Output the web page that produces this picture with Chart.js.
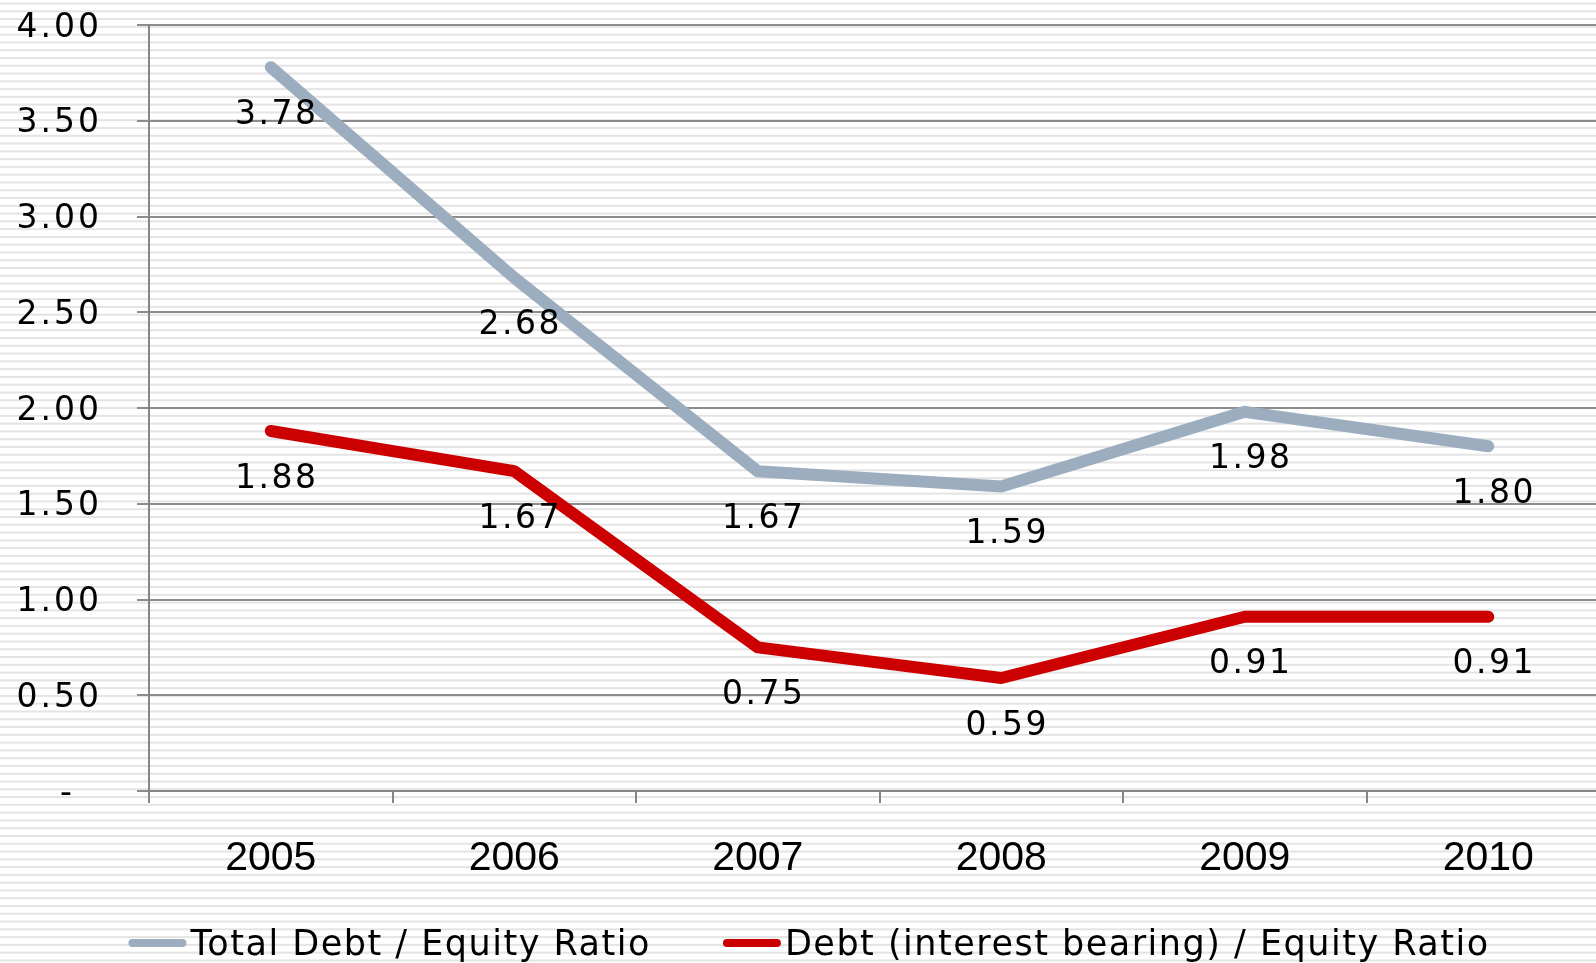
<!DOCTYPE html>
<html>
<head>
<meta charset="utf-8">
<title>Debt / Equity Ratio</title>
<script src="https://cdn.jsdelivr.net/npm/chart.js@4.4.1/dist/chart.umd.min.js"></script>
<style>
  html, body { margin: 0; padding: 0; overflow: hidden; background: #fff; }
  #chart { display: block; }
</style>
</head>
<body>
<canvas id="chart" width="1610" height="963"></canvas>
<script>
const years = ['2005', '2006', '2007', '2008', '2009', '2010'];
const totalDebtRatio = [3.78, 2.68, 1.67, 1.59, 1.98, 1.80];
const interestDebtRatio = [1.88, 1.67, 0.75, 0.59, 0.91, 0.91];
const yTickValues = [0, 0.5, 1, 1.5, 2, 2.5, 3, 3.5, 4];

const verdanaLike = '"DejaVu Sans", Verdana, sans-serif';

// striped background; y tick labels get a bit of letter spacing
const stripedBackground = {
    id: 'stripedBackground',
    beforeDraw(chart) {
        const ctx = chart.ctx;
        ctx.save();
        ctx.fillStyle = '#ffffff';
        ctx.fillRect(0, 0, chart.width, chart.height);
        ctx.fillStyle = '#e4e4e4';
        for (let y = 2.5; y < chart.height; y += 7.78) {
            ctx.fillRect(0, y, chart.width, 2);
        }
        ctx.restore();
        ctx.letterSpacing = '3px';
    },
    beforeDatasetsDraw(chart) {
        // x tick labels are drawn later (ticks.z = 1) without spacing
        chart.ctx.letterSpacing = '0px';
    }
};

// value labels under each point
const pointLabels = {
    id: 'pointLabels',
    afterDatasetsDraw(chart) {
        const ctx = chart.ctx;
        ctx.save();
        ctx.letterSpacing = '2.5px';
        ctx.font = '33px ' + verdanaLike;
        ctx.fillStyle = '#000000';
        ctx.textAlign = 'center';
        ctx.textBaseline = 'middle';
        chart.data.datasets.forEach((ds, i) => {
            const meta = chart.getDatasetMeta(i);
            meta.data.forEach((pt, j) => {
                ctx.fillText(ds.data[j].toFixed(2), pt.x + 6, pt.y + 48);
            });
        });
        ctx.restore();
    }
};

// legend at the bottom, line sample right against the text
const bottomLegend = {
    id: 'bottomLegend',
    afterDraw(chart) {
        const ctx = chart.ctx;
        ctx.save();
        ctx.letterSpacing = '1.5px';
        ctx.font = '35px ' + verdanaLike;
        ctx.textBaseline = 'middle';
        const lineLen = 50, lineW = 8, textGap = 4, itemGap = 72, y = 946;
        const items = chart.data.datasets.map(ds => ({
            ds: ds,
            w: ctx.measureText(ds.label).width
        }));
        const total = items.reduce((s, it) => s + lineLen + lineW + textGap + it.w, 0) + itemGap * (items.length - 1);
        let x = chart.width / 2 - total / 2 + 4;
        items.forEach(it => {
            ctx.strokeStyle = it.ds.borderColor;
            ctx.lineWidth = lineW;
            ctx.lineCap = 'round';
            ctx.beginPath();
            ctx.moveTo(x + lineW / 2, y - 3);
            ctx.lineTo(x + lineW / 2 + lineLen, y - 3);
            ctx.stroke();
            x += lineLen + lineW + textGap;
            ctx.fillStyle = '#000000';
            ctx.fillText(it.ds.label, x, y);
            x += it.w + itemGap;
        });
        ctx.restore();
    }
};

const ctx = document.getElementById('chart');

new Chart(ctx, {
    type: 'line',
    data: {
        labels: years,
        datasets: [{
            label: 'Total Debt / Equity Ratio',
            data: totalDebtRatio,
            borderColor: '#9badbe',
            backgroundColor: '#9badbe',
            borderWidth: 12,
            borderCapStyle: 'round',
            borderJoinStyle: 'round',
            tension: 0,
            pointRadius: 0,
            fill: false
        }, {
            label: 'Debt (interest bearing) / Equity Ratio',
            data: interestDebtRatio,
            borderColor: '#cc0000',
            backgroundColor: '#cc0000',
            borderWidth: 12,
            borderCapStyle: 'round',
            borderJoinStyle: 'round',
            tension: 0,
            pointRadius: 0,
            fill: false
        }]
    },
    options: {
        responsive: false,
        animation: false,
        devicePixelRatio: 1,
        layout: {
            padding: { top: 25, left: 0, right: 0, bottom: 0 }
        },
        plugins: {
            legend: { display: false },
            tooltip: { enabled: false }
        },
        scales: {
            y: {
                min: 0,
                max: 4,
                afterBuildTicks: (scale) => {
                    scale.ticks = yTickValues.map(v => ({ value: v }));
                },
                afterFit: (scale) => {
                    scale.width = 149;
                    scale.paddingTop = 0;
                    scale.paddingBottom = 0;
                },
                grid: {
                    color: '#8c8c8c',
                    lineWidth: 2,
                    drawTicks: true,
                    tickLength: 12,
                    tickColor: '#8c8c8c'
                },
                border: {
                    color: '#868686',
                    width: 2
                },
                ticks: {
                    color: '#000000',
                    padding: 35,
                    labelOffset: 3,
                    font: { family: verdanaLike, size: 33 },
                    callback: (value) => value === 0 ? '-  ' : value.toFixed(2)
                }
            },
            x: {
                offset: true,
                afterFit: (scale) => {
                    scale.height = 172;
                },
                grid: {
                    offset: true,
                    drawOnChartArea: false,
                    drawTicks: true,
                    tickLength: 12,
                    tickColor: '#868686',
                    lineWidth: 2
                },
                border: {
                    color: '#868686',
                    width: 2
                },
                ticks: {
                    z: 1,
                    color: '#000000',
                    padding: 31,
                    maxRotation: 0,
                    font: { family: '"Liberation Sans", Arial, sans-serif', size: 41 }
                }
            }
        }
    },
    plugins: [stripedBackground, pointLabels, bottomLegend]
});
</script>
</body>
</html>
